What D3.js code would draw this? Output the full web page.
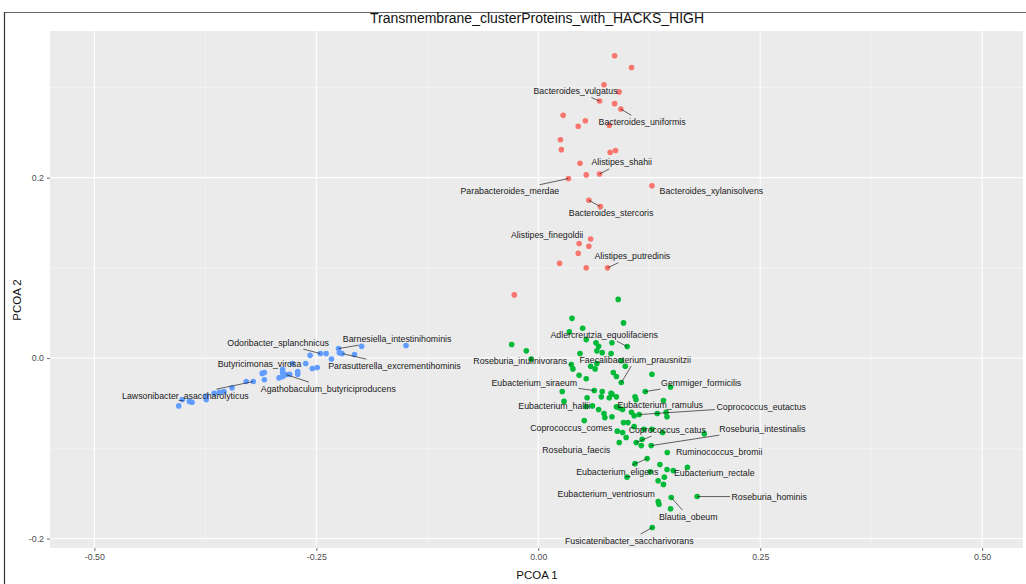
<!DOCTYPE html>
<html><head><meta charset="utf-8">
<script src="https://cdn.jsdelivr.net/npm/d3@7"></script>
<style>
body{margin:0;background:#fff;}
svg{display:block;font-family:"Liberation Sans",Arial,Helvetica,sans-serif;}
</style></head><body>
<svg id="chart" width="1026" height="584"></svg>
<script>
// Titles and axis ticks
const chartTitle = "Transmembrane_clusterProteins_with_HACKS_HIGH";
const xTitle = "PCOA 1";
const yTitle = "PCOA 2";
const xTicks = [-0.5, -0.25, 0, 0.25, 0.5];
const xTickLabels = ["-0.50", "-0.25", "0.00", "0.25", "0.50"];
const yTicks = [-0.2, 0, 0.2];
const yTickLabels = ["-0.2", "0.0", "0.2"];
const xMinor = [-0.375, -0.125, 0.125, 0.375];
const yMinor = [-0.1, 0.1, 0.3];

// PCoA coordinates [PCOA1, PCOA2] per cluster
const redCluster = [
  [0.086,0.335],[0.105,0.322],[0.074,0.303],[0.091,0.295],[0.069,0.285],[0.086,0.282],
  [0.093,0.276],[0.028,0.269],[0.053,0.263],[0.045,0.257],[0.080,0.258],[0.025,0.242],
  [0.026,0.231],[0.081,0.228],[0.087,0.230],[0.047,0.216],[0.054,0.203],[0.069,0.204],
  [0.034,0.199],[0.128,0.191],[0.057,0.175],[0.070,0.168],[0.059,0.132],[0.046,0.127],
  [0.057,0.124],[0.045,0.116],[0.024,0.105],[0.054,0.100],[0.078,0.100],[-0.027,0.070]
];
const blueCluster = [
  [-0.149,0.014],[-0.199,0.013],[-0.207,0.004],[-0.225,0.0105],[-0.224,0.006],[-0.221,0.005],
  [-0.233,-0.001],[-0.239,0.005],[-0.2455,0.005],[-0.257,0.003],[-0.262,-0.006],[-0.2545,-0.0115],
  [-0.249,-0.0105],[-0.271,-0.015],[-0.271,-0.018],[-0.288,-0.0127],[-0.288,-0.016],[-0.284,-0.0183],
  [-0.280,-0.018],[-0.292,-0.022],[-0.288,-0.0205],[-0.3085,-0.016],[-0.311,-0.017],[-0.3085,-0.024],
  [-0.321,-0.026],[-0.329,-0.026],[-0.345,-0.033],[-0.354,-0.037],[-0.359,-0.038],[-0.365,-0.039],
  [-0.374,-0.042],[-0.374,-0.046],[-0.390,-0.049],[-0.393,-0.048],[-0.401,-0.046],[-0.405,-0.053],
  [-0.277,-0.006]
];
const greenCluster = [
  [0.090,0.065],[0.096,0.039],[0.038,0.044],[0.050,0.033],[0.035,0.029],[0.054,0.0205],
  [0.065,0.017],[0.083,0.017],[0.068,0.013],[0.066,0.008],[0.072,0.006],[0.082,0.005],
  [0.1002,0.0127],[-0.030,0.015],[-0.0135,0.008],[-0.008,-0.001],[0.047,0.005],[0.066,-0.006],
  [0.064,-0.012],[0.059,-0.009],[0.0935,-0.003],[0.098,-0.009],[0.0372,-0.0072],[0.039,-0.012],
  [0.046,-0.019],[0.054,-0.023],[0.0845,-0.016],[0.088,-0.0205],[0.0935,-0.0271],[0.128,-0.018],
  [0.1205,-0.0371],[0.149,-0.032],[0.027,-0.037],[0.0631,-0.0360],[0.072,-0.037],[0.055,-0.044],
  [0.071,-0.043],[0.080,-0.044],[0.083,-0.040],[0.088,-0.043],[0.109,-0.043],[0.110,-0.046],
  [0.141,-0.047],[0.0540,-0.0537],[0.061,-0.053],[0.068,-0.057],[0.074,-0.0615],[0.075,-0.066],
  [0.083,-0.065],[0.088,-0.054],[0.091,-0.055],[0.095,-0.057],[0.105,-0.060],[0.108,-0.064],
  [0.1137,-0.0626],[0.1340,-0.0615],[0.144,-0.060],[0.145,-0.065],[0.0518,-0.0693],[0.096,-0.0715],
  [0.101,-0.0715],[0.108,-0.076],[0.089,-0.081],[0.095,-0.0825],[0.099,-0.088],[0.0912,-0.0936],
  [0.1103,-0.0936],[0.117,-0.090],[0.116,-0.097],[0.1272,-0.0970],[0.128,-0.079],[0.140,-0.0825],
  [0.187,-0.084],[0.1453,-0.1047],[0.109,-0.117],[0.1227,-0.1114],[0.137,-0.118],[0.126,-0.126],
  [0.145,-0.1235],[0.1520,-0.1247],[0.168,-0.121],[0.142,-0.132],[0.135,-0.136],[0.141,-0.140],
  [0.100,-0.132],[0.1790,-0.1535],[0.1498,-0.1546],[0.1351,-0.1590],[0.136,-0.162],[0.149,-0.167],
  [0.1284,-0.1878],[0.119,-0.079],[0.082,-0.039],[0.029,-0.048]
];

// Repelled labels: [name, point x, point y, label x, label y, leader line]
const pointLabels = [
  ["Bacteroides_vulgatus", 0.069, 0.285, 0.042, 0.296, true],
  ["Bacteroides_uniformis", 0.093, 0.276, 0.117, 0.262, true],
  ["Alistipes_shahii", 0.069, 0.204, 0.094, 0.217, true],
  ["Parabacteroides_merdae", 0.034, 0.199, -0.032, 0.185, true],
  ["Bacteroides_xylanisolvens", 0.128, 0.191, 0.195, 0.185, false],
  ["Bacteroides_stercoris", 0.057, 0.175, 0.082, 0.161, true],
  ["Alistipes_finegoldii", 0.059, 0.132, 0.010, 0.136, false],
  ["Alistipes_putredinis", 0.078, 0.100, 0.106, 0.113, true],
  ["Odoribacter_splanchnicus", -0.2455, 0.005, -0.293, 0.0172, true],
  ["Barnesiella_intestinihominis", -0.225, 0.0105, -0.159, 0.0216, true],
  ["Parasutterella_excrementihominis", -0.221, 0.005, -0.162, -0.0083, true],
  ["Butyricimonas_virosa", -0.288, -0.0127, -0.314, -0.0061, false],
  ["Agathobaculum_butyriciproducens", -0.284, -0.0183, -0.2365, -0.0338, true],
  ["Lawsonibacter_asaccharolyticus", -0.321, -0.026, -0.3975, -0.0416, true],
  ["Adlercreutzia_equolifaciens", 0.1002, 0.0127, 0.0743, 0.0260, true],
  ["Roseburia_inulinivorans", 0.0372, -0.0072, -0.0203, -0.0028, true],
  ["Faecalibacterium_prausnitzii", 0.0935, -0.0271, 0.1092, -0.0017, true],
  ["Eubacterium_siraeum", 0.0631, -0.0360, -0.0045, -0.0271, true],
  ["Gemmiger_formicilis", 0.1205, -0.0371, 0.1835, -0.0271, true],
  ["Eubacterium_hallii", 0.0540, -0.0537, 0.0180, -0.0526, false],
  ["Eubacterium_ramulus", 0.1340, -0.0615, 0.1374, -0.0515, false],
  ["Coprococcus_eutactus", 0.1137, -0.0626, 0.2511, -0.0537, true],
  ["Coprococcus_comes", 0.0518, -0.0693, 0.0372, -0.0770, false],
  ["Coprococcus_catus", 0.1103, -0.0936, 0.1453, -0.0792, true],
  ["Roseburia_intestinalis", 0.1272, -0.0970, 0.2523, -0.0781, true],
  ["Roseburia_faecis", 0.0912, -0.0936, 0.0428, -0.1014, false],
  ["Ruminococcus_bromii", 0.1453, -0.1047, 0.2038, -0.1036, false],
  ["Eubacterium_eligens", 0.1227, -0.1114, 0.0890, -0.1258, true],
  ["Eubacterium_rectale", 0.1520, -0.1247, 0.1982, -0.1269, false],
  ["Eubacterium_ventriosum", 0.1351, -0.1590, 0.0766, -0.1501, false],
  ["Roseburia_hominis", 0.1790, -0.1535, 0.2601, -0.1535, true],
  ["Blautia_obeum", 0.1498, -0.1546, 0.1689, -0.1756, true],
  ["Fusicatenibacter_saccharivorans", 0.1284, -0.1878, 0.1025, -0.2022, true]
];

const clusters = [
  {points: redCluster, color: "#F8766D"},
  {points: greenCluster, color: "#00BA38"},
  {points: blueCluster, color: "#619CFF"}
];

const svg = d3.select("#chart");
const panel = {left: 50, right: 1023, top: 31, bottom: 548};

const x = d3.scaleLinear().domain([-0.55, 0.546]).range([panel.left, panel.right]);
const y = d3.scaleLinear().domain([-0.2105, 0.3625]).range([panel.bottom, panel.top]);

// outer frame
svg.append("line").attr("x1", 4).attr("x2", 1026).attr("y1", 12.5).attr("y2", 12.5)
  .attr("stroke", "#666").attr("stroke-width", 1.2);
svg.append("line").attr("x1", 4.5).attr("x2", 4.5).attr("y1", 12).attr("y2", 584)
  .attr("stroke", "#333").attr("stroke-width", 1.2);

// panel background
svg.append("rect").attr("x", panel.left).attr("y", panel.top)
  .attr("width", panel.right - panel.left).attr("height", panel.bottom - panel.top)
  .attr("fill", "#EBEBEB");

const grid = svg.append("g");
grid.selectAll(".xminor").data(xMinor).join("line")
  .attr("x1", d => x(d)).attr("x2", d => x(d)).attr("y1", panel.top).attr("y2", panel.bottom)
  .attr("stroke", "#F7F7F7").attr("stroke-width", 0.6);
grid.selectAll(".yminor").data(yMinor).join("line")
  .attr("y1", d => y(d)).attr("y2", d => y(d)).attr("x1", panel.left).attr("x2", panel.right)
  .attr("stroke", "#F7F7F7").attr("stroke-width", 0.6);
grid.selectAll(".xmajor").data(xTicks).join("line")
  .attr("x1", d => x(d)).attr("x2", d => x(d)).attr("y1", panel.top).attr("y2", panel.bottom)
  .attr("stroke", "#fff").attr("stroke-width", 1.1);
grid.selectAll(".ymajor").data(yTicks).join("line")
  .attr("y1", d => y(d)).attr("y2", d => y(d)).attr("x1", panel.left).attr("x2", panel.right)
  .attr("stroke", "#fff").attr("stroke-width", 1.1);

// axes
const xAxis = d3.axisBottom(x).tickValues(xTicks).tickSize(3).tickPadding(3)
  .tickFormat((d, i) => xTickLabels[i]);
const yAxis = d3.axisLeft(y).tickValues(yTicks).tickSize(3).tickPadding(3)
  .tickFormat((d, i) => yTickLabels[i]);
const gx = svg.append("g").attr("transform", `translate(0,${panel.bottom})`).call(xAxis);
const gy = svg.append("g").attr("transform", `translate(${panel.left},0)`).call(yAxis);
[gx, gy].forEach(g => {
  g.select(".domain").remove();
  g.selectAll(".tick line").attr("stroke", "#444").attr("stroke-width", 0.8);
  g.selectAll(".tick text").attr("fill", "#4D4D4D").style("font-size", "8.8px")
    .style("font-family", "'Liberation Sans', Arial, sans-serif");
});

// points
const ptLayer = svg.append("g");
clusters.forEach(c => {
  ptLayer.selectAll(null).data(c.points).join("circle")
    .attr("cx", d => x(d[0])).attr("cy", d => y(d[1])).attr("r", 2.8)
    .attr("fill", c.color);
});

// labels with leader lines
const segLayer = svg.append("g");
const txtLayer = svg.append("g");
pointLabels.forEach(([name, px, py, lx, ly, lead]) => {
  const t = txtLayer.append("text")
    .attr("x", x(lx)).attr("y", y(ly)).attr("dy", "0.35em")
    .attr("text-anchor", "middle").attr("fill", "#1a1a1a")
    .style("font-size", "8.8px").text(name);
  if (!lead) return;
  const b = t.node().getBBox();
  const pad = 1.5;
  const x0 = b.x - pad, x1 = b.x + b.width + pad, y0 = b.y - pad, y1 = b.y + b.height + pad;
  const P = [x(px), y(py)], C = [x(lx), y(ly)];
  const dx = C[0] - P[0], dy = C[1] - P[1];
  // entry point of ray P->C into the label box
  let tEnter = 0, tExit = 1;
  [[-dx, P[0] - x0], [dx, x1 - P[0]], [-dy, P[1] - y0], [dy, y1 - P[1]]].forEach(([p, q]) => {
    if (p === 0) return;
    const r = q / p;
    if (p < 0) tEnter = Math.max(tEnter, r); else tExit = Math.min(tExit, r);
  });
  if (tEnter <= 0) return;
  segLayer.append("line")
    .attr("x1", P[0]).attr("y1", P[1])
    .attr("x2", P[0] + dx * tEnter).attr("y2", P[1] + dy * tEnter)
    .attr("stroke", "#222").attr("stroke-width", 0.7);
});

// titles
svg.append("text").attr("x", 537).attr("y", 23).attr("text-anchor", "middle")
  .attr("fill", "#111").style("font-size", "14px").text(chartTitle);
svg.append("text").attr("x", 537).attr("y", 579).attr("text-anchor", "middle")
  .attr("fill", "#111").style("font-size", "11.5px").text(xTitle);
svg.append("text").attr("transform", "translate(21,300) rotate(-90)").attr("text-anchor", "middle")
  .attr("fill", "#111").style("font-size", "11.5px").text(yTitle);
</script>
</body></html>
